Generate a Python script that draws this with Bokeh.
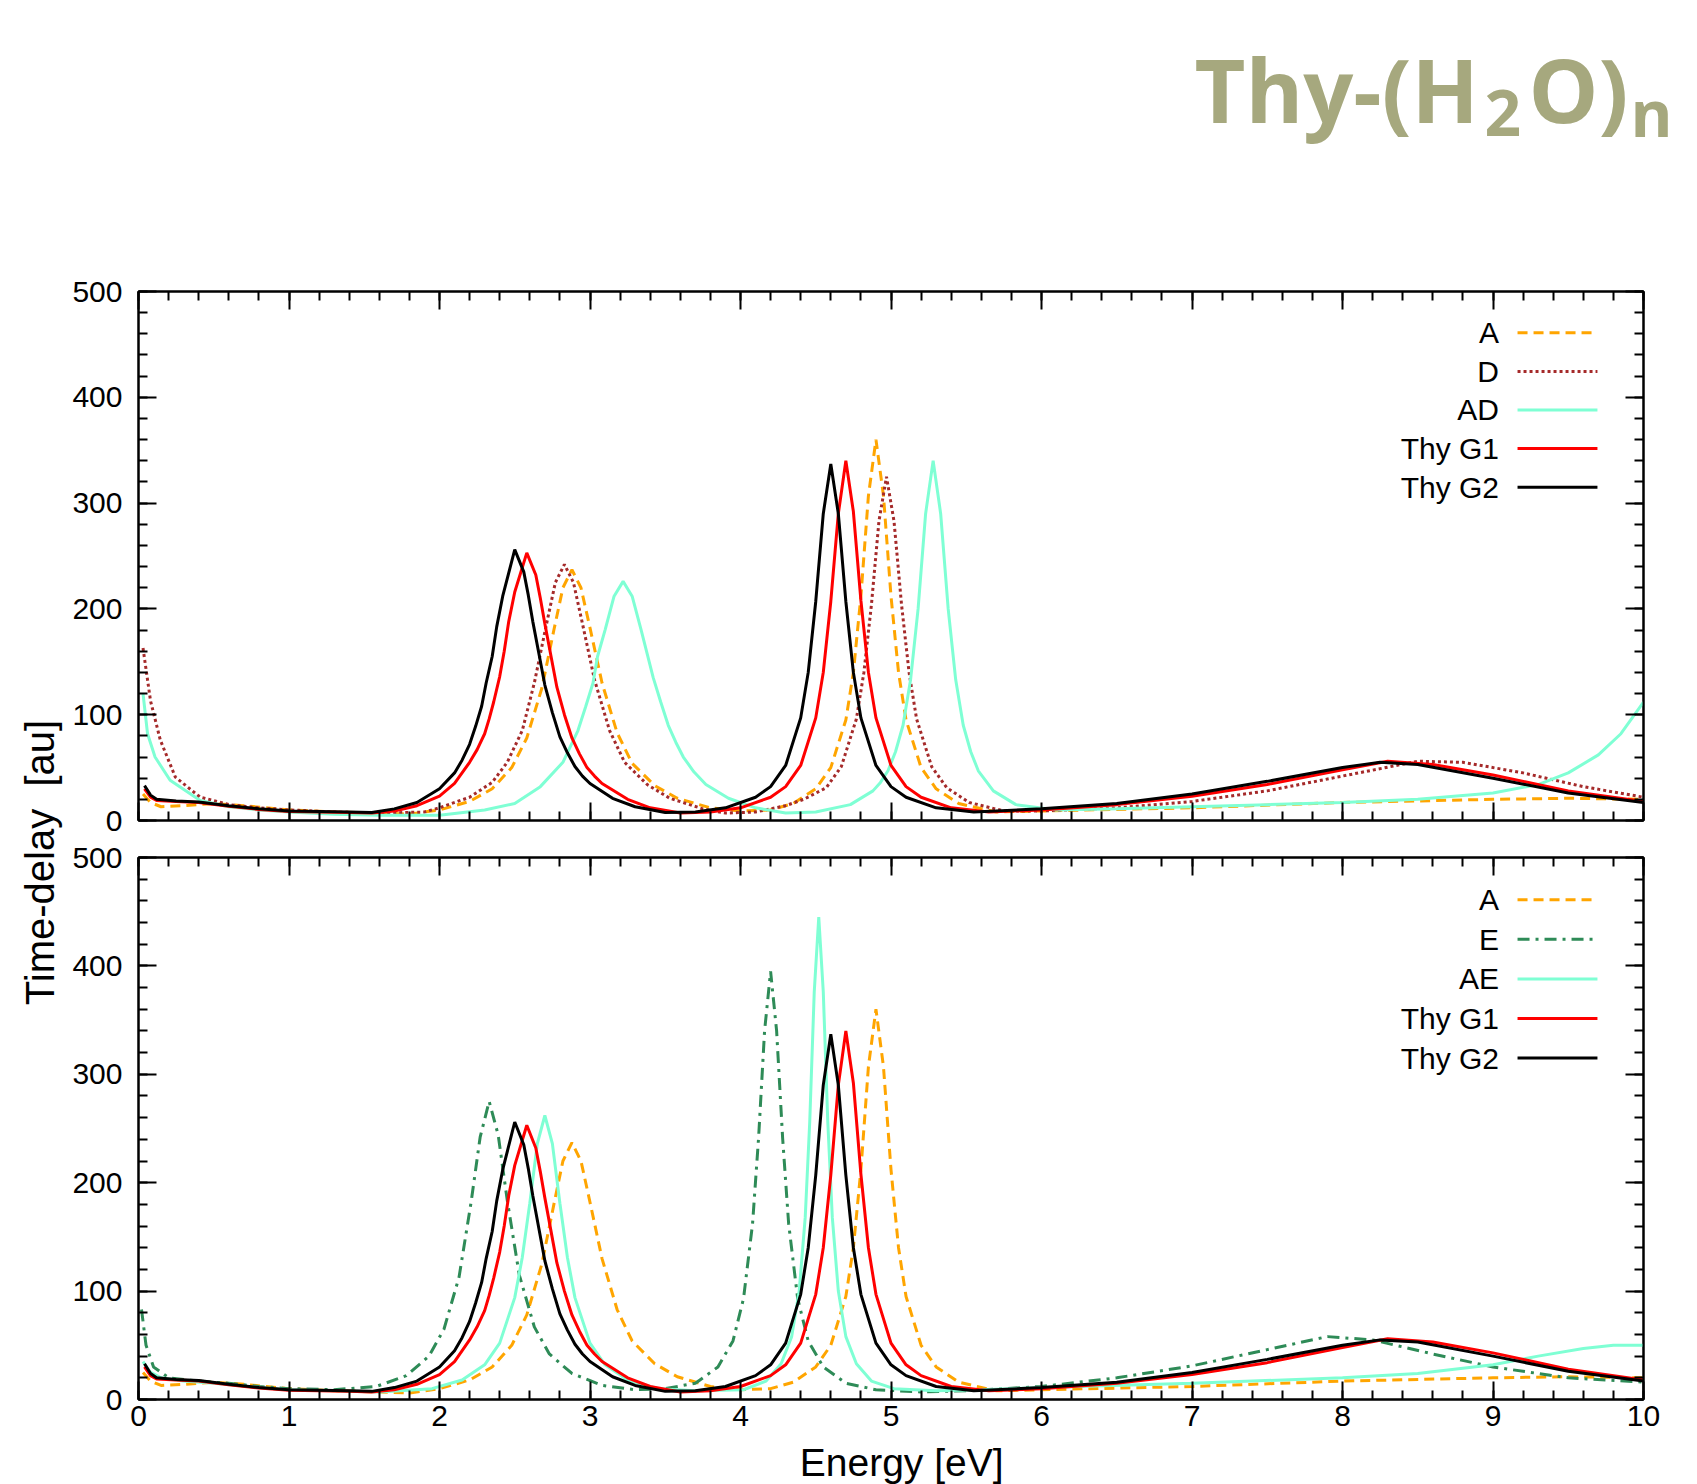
from math import pi
from bokeh.plotting import figure
from bokeh.models import (Range1d, LinearAxis, SingleIntervalTicker, Label, Arrow,
                          CustomJSTickFormatter)
from bokeh.layouts import column, row
from bokeh.embed import file_html
from bokeh.resources import INLINE
from bokeh.core.properties import value

# ---------------- data ----------------
energy_G2 = [0.04, 0.08, 0.12, 0.25, 0.4, 0.6, 0.8, 1.0, 1.2, 1.4, 1.55, 1.7, 1.85, 2.0, 2.1,
             2.15, 2.2, 2.24, 2.28, 2.31, 2.35, 2.38, 2.42, 2.5, 2.56, 2.59, 2.62, 2.66, 2.7, 2.75,
             2.8, 2.85, 2.9, 2.95, 3.0, 3.15, 3.3, 3.5, 3.7, 3.9, 4.1, 4.2, 4.3, 4.4, 4.45,
             4.5, 4.55, 4.6, 4.65, 4.7, 4.75, 4.8, 4.9, 5.0, 5.1, 5.3, 5.55, 6.0, 6.5, 7.0,
             7.5, 8.0, 8.25, 8.5, 9.0, 9.5, 10.0]
delay_G2 = [33, 24, 20, 18.5, 17.5, 14, 11, 9, 8.5, 8, 7.5, 11, 17, 30, 45,
            57, 72, 89, 108, 130, 155, 183, 212, 256, 235, 213, 188, 158, 128, 102,
            79, 64, 51, 42, 35, 21, 13, 7.5, 8, 12, 22, 32, 52, 97, 140,
            207, 290, 337, 290, 207, 140, 97, 52, 32, 22, 12, 8, 11, 16, 25,
            37, 50, 55, 53, 40, 26, 17]

energy_G1 = [0.04, 0.08, 0.12, 0.25, 0.4, 0.6, 0.8, 1.0, 1.2, 1.4, 1.55, 1.7, 1.85, 2.0, 2.1,
             2.2, 2.25, 2.3, 2.33, 2.36, 2.4, 2.43, 2.46, 2.5, 2.58, 2.64, 2.67, 2.7, 2.74, 2.78,
             2.83, 2.88, 2.93, 2.98, 3.03, 3.08, 3.25, 3.4, 3.6, 3.8, 4.0, 4.2, 4.3, 4.4, 4.5,
             4.55, 4.6, 4.65, 4.7, 4.75, 4.8, 4.85, 4.9, 5.0, 5.1, 5.2, 5.4, 5.65, 6.0, 6.5,
             7.0, 7.5, 8.0, 8.3, 8.6, 9.0, 9.5, 10.0]
delay_G1 = [30, 22, 19, 18, 17, 13.5, 10.5, 8.5, 8, 7.5, 7, 9, 14, 23, 35,
            55, 67, 82, 96, 112, 136, 160, 188, 216, 253, 232, 210, 186, 156, 126,
            100, 78, 63, 50, 42, 35, 20, 12, 7, 8, 12, 22, 32, 52, 97,
            140, 207, 290, 340, 292, 208, 140, 97, 52, 32, 22, 12, 8, 10, 15,
            23, 34, 48, 56, 53, 43, 28, 18]

energy_A = [0.03, 0.08, 0.15, 0.3, 0.5, 0.7, 1.0, 1.3, 1.6, 1.8, 2.0, 2.2, 2.35, 2.48, 2.58,
            2.68, 2.76, 2.82, 2.88, 2.94, 3.0, 3.08, 3.18, 3.28, 3.43, 3.58, 3.8, 4.0, 4.2, 4.35,
            4.5, 4.6, 4.7, 4.75, 4.8, 4.85, 4.9, 4.95, 5.0, 5.05, 5.1, 5.2, 5.3, 5.45, 5.7,
            6.0, 7.0, 8.0, 9.0, 9.5, 10.0]
delay_A = [25, 17, 13, 14, 16, 14, 10, 8, 7, 6, 10, 18, 30, 50, 78,
           125, 180, 220, 237, 220, 182, 130, 83, 54, 33, 21, 12, 9, 10, 16,
           30, 50, 95, 140, 212, 307, 360, 307, 212, 140, 95, 50, 30, 16, 8,
           9, 12, 17, 20, 21, 20]

energy_D = [0.03, 0.08, 0.145, 0.245, 0.41, 0.6, 0.8, 1.0, 1.3, 1.6, 1.9, 2.0, 2.2, 2.35, 2.45,
            2.55, 2.63, 2.71, 2.77, 2.83, 2.89, 2.95, 3.03, 3.13, 3.23, 3.38, 3.53, 3.75, 3.9, 4.1,
            4.3, 4.42, 4.57, 4.67, 4.77, 4.82, 4.87, 4.92, 4.97, 5.02, 5.07, 5.12, 5.17, 5.27, 5.37,
            5.52, 5.75, 6.0, 6.5, 7.0, 7.5, 8.0, 8.5, 8.8, 9.2, 9.6, 10.0]
delay_D = [163, 113, 76, 41, 22, 15, 12, 10, 8, 7, 8, 12, 22, 36, 55,
           85, 130, 185, 225, 242, 225, 186, 133, 85, 55, 34, 21, 11, 7, 8,
           14, 20, 31, 51, 96, 140, 204, 283, 325, 283, 204, 140, 96, 51, 31,
           17, 9, 9, 12, 18, 28, 42, 56, 55, 45, 32, 22]

energy_AD = [0.03, 0.06, 0.11, 0.21, 0.41, 0.6, 0.8, 1.0, 1.3, 1.6, 2.0, 2.3, 2.5, 2.67, 2.82,
             2.87, 2.92, 2.97, 3.02, 3.05, 3.1, 3.16, 3.22, 3.28, 3.34, 3.42, 3.47, 3.52, 3.57, 3.62,
             3.69, 3.77, 3.92, 4.1, 4.3, 4.5, 4.73, 4.88, 4.93, 4.98, 5.03, 5.08, 5.13, 5.18, 5.23,
             5.28, 5.33, 5.38, 5.43, 5.48, 5.53, 5.58, 5.68, 5.83, 6.1, 6.5, 7.0, 7.5, 8.0, 8.5,
             9.0, 9.3, 9.5, 9.7, 9.85, 10.0]
delay_AD = [120, 82, 60, 38, 19, 13, 10, 8, 6, 5, 5, 10, 16, 32, 55,
            70, 85, 107, 130, 155, 180, 212, 226, 212, 180, 135, 112, 90, 74, 60,
            46, 34, 21, 12, 7, 8, 15, 28, 36, 47, 65, 90, 133, 200, 290,
            340, 290, 200, 133, 90, 65, 47, 28, 15, 10, 11, 13, 15, 17, 20,
            26, 34, 45, 62, 82, 112]

energy_E = [0.02, 0.05, 0.1, 0.2, 0.4, 0.6, 0.8, 1.0, 1.3, 1.58, 1.78, 1.93, 2.03, 2.13, 2.21,
            2.27, 2.33, 2.39, 2.45, 2.53, 2.63, 2.73, 2.88, 3.08, 3.3, 3.5, 3.7, 3.85, 3.95, 4.02,
            4.08, 4.12, 4.16, 4.2, 4.24, 4.28, 4.32, 4.38, 4.45, 4.55, 4.7, 4.9, 5.2, 5.5, 6.0,
            6.5, 7.0, 7.5, 7.9, 8.2, 8.6, 9.0, 9.5, 10.0]
delay_E = [83, 50, 30, 20, 17, 15, 12, 10, 9, 12, 22, 40, 65, 113, 182,
           242, 275, 244, 184, 115, 67, 42, 24, 13, 9, 10, 15, 30, 54, 93,
           162, 241, 340, 395, 340, 241, 162, 93, 54, 30, 15, 9, 7, 8, 12,
           20, 31, 46, 58, 55, 42, 30, 20, 16]

energy_AE = [0.03, 0.08, 0.15, 0.3, 0.5, 0.8, 1.0, 1.3, 1.6, 1.95, 2.15, 2.3, 2.4, 2.5, 2.55,
             2.6, 2.65, 2.7, 2.75, 2.8, 2.85, 2.9, 3.0, 3.1, 3.25, 3.45, 3.7, 4.02, 4.17, 4.27,
             4.34, 4.39, 4.43, 4.46, 4.49, 4.52, 4.55, 4.58, 4.61, 4.65, 4.7, 4.77, 4.87, 5.02, 5.3,
             5.6, 6.0, 7.0, 8.0, 8.5, 9.0, 9.3, 9.6, 9.8, 10.0]
delay_AE = [35, 25, 20, 17, 15, 11, 9, 8, 7, 10, 18, 32, 52, 94, 131,
            181, 236, 262, 236, 181, 131, 94, 52, 32, 18, 10, 8, 9, 17, 33,
            58, 100, 168, 256, 376, 445, 376, 256, 168, 100, 58, 33, 17, 10, 8,
            9, 11, 15, 20, 24, 32, 40, 47, 50, 50]

x_ticks_interval = 1
y_ticks_interval = 100
title_main = ["Thy-(H", "O)"]
title_sub = ["2", "n"]
x_label = "Energy [eV]"
y_label = "Time-delay \u00a0[au]"

# ---------------- styles ----------------
FONT = "Liberation Sans"
OLIVE = "#A6A87E"
STY = {
    "A": ("#FFA500", "10 6"),
    "D": ("#A52A2A", "3 3"),
    "AD": ("#7FFFD4", "solid"),
    "E": ("#2E8B57", "12 6 3 6"),
    "AE": ("#7FFFD4", "solid"),
    "Thy G1": ("#FF0000", "solid"),
    "Thy G2": ("#000000", "solid"),
}
LW = 3

PANEL_W = 1622
TITLE_H = 250
TOP_H = 588
BOT_H = 602
XL_H = 44


def style_axis(ax, interval, show_labels, standoff=10):
    ax.ticker = SingleIntervalTicker(interval=interval, num_minor_ticks=5)
    ax.major_tick_in = 18
    ax.major_tick_out = 0
    ax.minor_tick_in = 9
    ax.minor_tick_out = 0
    ax.axis_line_width = 2
    ax.axis_line_color = "black"
    ax.major_tick_line_width = 2
    ax.minor_tick_line_width = 2
    ax.major_tick_line_color = "black"
    ax.minor_tick_line_color = "black"
    if show_labels:
        ax.major_label_text_font = FONT
        ax.major_label_text_font_size = "30px"
        ax.major_label_text_color = "black"
        ax.major_label_standoff = standoff
    else:
        ax.formatter = CustomJSTickFormatter(code="return ''")
        ax.major_label_text_font_size = "0px"
        ax.major_label_standoff = 0


def make_panel(height, top_border, bottom_border, x_labels):
    p = figure(width=PANEL_W, height=height, x_range=Range1d(0, 10), y_range=Range1d(0, 500),
               output_backend="svg", toolbar_location=None,
               min_border_left=70, min_border_right=PANEL_W - 70 - 1505,
               min_border_top=top_border, min_border_bottom=bottom_border,
               background_fill_color="white", border_fill_color="white",
               outline_line_color="black", outline_line_width=2)
    p.grid.visible = False
    style_axis(p.xaxis[0], x_ticks_interval, x_labels, standoff=6)
    style_axis(p.yaxis[0], y_ticks_interval, True, standoff=16)
    top_ax = LinearAxis()
    style_axis(top_ax, x_ticks_interval, False)
    p.add_layout(top_ax, "above")
    right_ax = LinearAxis()
    style_axis(right_ax, y_ticks_interval, False)
    p.add_layout(right_ax, "right")
    return p


def draw(p, series):
    for name, xs, ys in series:
        color, dash = STY[name]
        p.line(xs, ys, line_color=color, line_width=LW, line_dash=dash)
    # legend: label right-aligned, sample line to its right (gnuplot style)
    for i, (name, xs, ys) in enumerate(series):
        color, dash = STY[name]
        yy = 461 - 36.5 * i
        p.add_layout(Label(x=9.04, y=yy, text=name, text_align="right", text_baseline="middle",
                           text_font=FONT, text_font_size="30px", text_color="black"))
        p.add_layout(Arrow(end=None, x_start=9.163, x_end=9.694, y_start=yy, y_end=yy,
                           line_color=color, line_width=LW, line_dash=dash))


top = make_panel(TOP_H, 41, 18, False)
draw(top, [("A", energy_A, delay_A), ("D", energy_D, delay_D), ("AD", energy_AD, delay_AD),
           ("Thy G1", energy_G1, delay_G1), ("Thy G2", energy_G2, delay_G2)])

bottom = make_panel(BOT_H, 19, 41, True)
draw(bottom, [("A", energy_A, delay_A), ("E", energy_E, delay_E), ("AE", energy_AE, delay_AE),
              ("Thy G1", energy_G1, delay_G1), ("Thy G2", energy_G2, delay_G2)])


def blank(width, height):
    f = figure(width=width, height=height, x_range=Range1d(0, width), y_range=Range1d(0, height),
               output_backend="svg", toolbar_location=None, min_border=0,
               x_axis_location=None, y_axis_location=None, outline_line_color=None,
               background_fill_color="white", border_fill_color="white")
    f.grid.visible = False
    return f


# x label strip under the lower panel
xl = blank(PANEL_W, XL_H)
xl.text(x=[70 + 1505 / 2], y=[XL_H / 2], text=[x_label], text_font=value(FONT),
        text_font_size=value("39px"), text_color="black", text_align="center",
        text_baseline="middle")

# title
tp = blank(PANEL_W + 68, TITLE_H)
tp.text(x=[1194, 1528], y=[162, 162], text=title_main, text_font=value("Open Sans"),
        text_font_style="bold", text_font_size=value("88px"), text_color=OLIVE,
        text_baseline="alphabetic", text_align="left")
tp.text(x=[1484, 1630], y=[138, 138], text=title_sub, text_font=value("Open Sans"),
        text_font_style="bold", text_font_size=value("64px"), text_color=OLIVE,
        text_baseline="alphabetic", text_align="left")

# y label strip
YL_H = TOP_H + BOT_H + XL_H
yl = blank(68, YL_H)
yl.text(x=[39], y=[YL_H - (862 - TITLE_H)], text=[y_label], angle=pi / 2, text_font=value(FONT),
        text_font_size=value("40px"), text_color="black", text_align="center",
        text_baseline="middle")

layout = column(tp, row(yl, column(top, bottom, xl)))
open("out.html", "w").write(file_html(layout, INLINE))
